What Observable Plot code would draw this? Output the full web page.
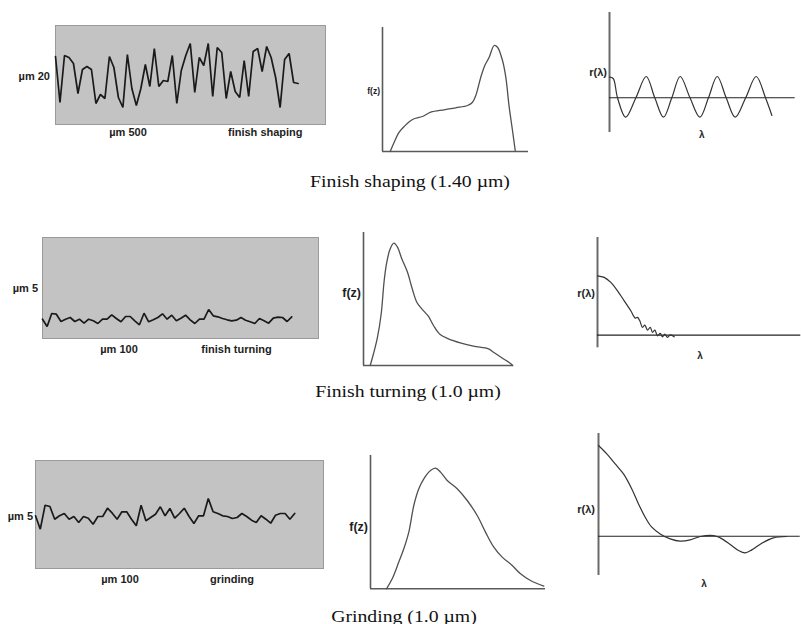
<!DOCTYPE html>
<html>
<head>
<meta charset="utf-8">
<script src="https://cdn.jsdelivr.net/npm/d3@7"></script>
<script src="https://cdn.jsdelivr.net/npm/@observablehq/plot@0.6"></script>
<style>
  html, body { margin: 0; padding: 0; background: #fff; }
  .lbl { position: absolute; white-space: nowrap; line-height: 1; color: #1e1e1e;
         font-family: "Liberation Sans", Arial, sans-serif; font-weight: bold; }
  .cap { position: absolute; white-space: nowrap; line-height: 1; color: #111;
         font-family: "Liberation Serif", "Times New Roman", serif; font-size: 17px; }
</style>
</head>
<body>
<div id="root" style="position:relative;width:801px;height:624px;overflow:hidden;background:#fff"></div>
<script>
// ---------- DATA ----------
// Surface profiles (height above the bottom of the grey box, one value per sample)
const shapingProfile = [68,22,69,67,61,31,55,58,55,21,30,26,68,57,27,17,70,36,19,36,60,38,76,38,44,43,69,21,54,69,81,32,67,59,81,28,77,72,26,53,33,27,64,28,73,76,53,78,67,47,17,65,71,42,41];
const turningProfile = [19.3,12,25,24.3,17,19.3,21,17,19.3,15.3,19.3,17.7,15,19.3,19.3,23.7,20,16.7,22,22,17.7,13.7,25.3,16.7,18.7,21,24.7,19.3,23.3,17.7,20.3,23.3,18.7,15,19.3,19.3,29,22.7,21.7,20,18.7,17.7,18.3,21,18.3,16.7,15,20,17.7,15.3,20.3,21.3,21,17,21.7];
const grindingProfile = [52.7,39.3,63.3,62,49.3,52.7,55,49.3,52,46,52,50.3,44.3,52,52,60.3,55.3,49.3,56.7,56.7,49.3,42.7,63.3,47.7,51,54.3,61.7,52.7,60,50.3,55,60.3,52,45,52.7,52.7,70,56.7,55,52.7,52,50,51,55,52,48.3,46,52.7,49.3,45.3,53.3,55,55,49.3,55];

// Height distributions f(z)
const shapingZ = [7.7,11.7,16.7,21.7,30,40,48.3,61.7,73.3,85,90,93.3,98.3,102.3,106.7,111.7,115,120,123.3,126.7,130,132.7];
const shapingF = [0,9.3,19.3,25,32,35,39.3,41.7,43.7,46,49.3,56,74.3,86,94.3,106,104.3,91,74.3,44.3,21,1];
const turningZ = [6.7,10,14,17.7,20.7,23.3,26.7,30.3,34,38.3,44,48.3,53.3,58.3,65,70,76.7,85,96.7,110,125,130,138.3,146.7,149.3];
const turningF = [0,11.7,28.3,51.7,85,103.3,116.7,122.3,118.3,106.7,93.3,78.3,63.3,56.7,49,40,31,26.7,22.7,19.3,16.7,13.3,7.7,2.3,0];
const grindingZ = [16,21.7,28.3,33.3,38.3,43.3,48.3,53.3,60,65,70,76.7,86.7,96.7,106.7,115,123.3,131.7,141.7,150,160,173.3];
const grindingF = [0,10,26.7,40,56.7,83.3,100,110,118.3,120.7,116.7,108.3,100,88.3,73.3,56.7,41.7,31.7,23.3,15,8.3,2.7];

// Autocorrelation r(λ)
const shapingLag = [0,3.7,8,16.2,26.4,36.7,45.3,54,62.3,70.7,80.5,90.4,99,107.7,116.7,125.7,136.2,146.7,156,162.4];
const shapingR   = [20.6,19.3,0,-19.4,0,21.3,0,-19.4,0,21.3,0,-19.4,0,21.3,0,-19.4,0,21.3,0,-17.7];
const turningLag = [0,6.7,13.3,20,26.7,33.3,37.7,40,42.3,45,47.3,50,52.7,55,57.3,60,62.7,65,67.3,70,72.7,76.7];
const turningR   = [59.3,57.7,52.7,44.3,34.3,24.3,17,17.7,14.3,7.7,10,5,7.7,2.7,5,-0.7,1.7,-1.7,1,-2.3,0.3,-1.7];
const grindingLag = [0,8.3,16.7,25,33.3,40,46.7,53.3,61.7,71.7,81.7,91.7,101.7,115,121.7,131.7,140,146.7,153.3,163.3,175,188.3];
const grindingR   = [90.7,82.3,72.3,62.3,47.3,32.3,19,9,2.3,-2.7,-5,-3.7,-0.3,0.7,-1.7,-8.3,-14.3,-16.7,-13.7,-7,-1.7,-0.3];

// Texts
const processLabels = ["finish shaping", "finish turning", "grinding"];
const heightLabels = ["µm 20", "µm 5", "µm 5"];
const lengthLabels = ["µm 500", "µm 100", "µm 100"];
const captions = ["Finish shaping (1.40 µm)", "Finish turning (1.0 µm)", "Grinding (1.0 µm)"];

// ---------- LAYOUT ----------
const root = document.getElementById("root");
const M = 3;

function place(svg, f) {
  const d = document.createElement("div");
  d.style.position = "absolute";
  d.style.left = (f.x0 - M) + "px";
  d.style.top = (f.y0 - M) + "px";
  d.style.width = (f.x1 - f.x0 + 2 * M) + "px";
  d.style.height = (f.y1 - f.y0 + 2 * M) + "px";
  d.append(svg);
  root.append(d);
}
function size(f) {
  return {width: f.x1 - f.x0 + 2 * M, height: f.y1 - f.y0 + 2 * M,
          marginTop: M, marginRight: M, marginBottom: M, marginLeft: M,
          style: {overflow: "visible", background: "transparent"}};
}
function label(text, x, y, anchor, px, cls = "lbl", sx = 1) {
  const d = document.createElement("div");
  d.className = cls;
  d.textContent = text;
  d.style.left = x + "px";
  d.style.top = y + "px";
  d.style.fontSize = px + "px";
  const tx = anchor === "end" ? "-100%" : anchor === "start" ? "0" : "-50%";
  d.style.transformOrigin = "0 0";
  d.style.transform = `scaleX(${sx}) translate(${tx},-50%)`;
  if (sx !== 1) d.style.left = x + "px";
  root.append(d);
}

// Profiles
const profiles = [
  {values: shapingProfile, f: {x0: 55, x1: 325, y0: 25, y1: 124}, xMax: 60.1, yMax: 99},
  {values: turningProfile, f: {x0: 42, x1: 318, y0: 237, y1: 338}, xMax: 59.8, yMax: 101},
  {values: grindingProfile, f: {x0: 35, x1: 323, y0: 460, y1: 568}, xMax: 60, yMax: 108}
];
for (const p of profiles) {
  place(Plot.plot({
    ...size(p.f),
    x: {domain: [0, p.xMax], axis: null},
    y: {domain: [0, p.yMax], axis: null},
    marks: [
      Plot.frame({fill: "#c3c3c3", stroke: "#9a9a9a", strokeWidth: 1}),
      Plot.line(p.values, {x: (d, i) => i, y: d => d, stroke: "#1a1a1a", strokeWidth: 1.7, strokeLinejoin: "miter"})
    ]
  }), p.f);
}

// Distributions
const dists = [
  {z: shapingZ, v: shapingF, f: {x0: 382, x1: 528, y0: 27, y1: 151}, xd: [0, 146], yd: [0, 124]},
  {z: turningZ, v: turningF, f: {x0: 363.3, x1: 513, y0: 232, y1: 365}, xd: [0, 149.7], yd: [0, 133]},
  {z: grindingZ, v: grindingF, f: {x0: 370, x1: 545, y0: 455, y1: 588.3}, xd: [0, 175], yd: [0, 133.3]}
];
for (const p of dists) {
  place(Plot.plot({
    ...size(p.f),
    x: {domain: p.xd, axis: null},
    y: {domain: p.yd, axis: null},
    marks: [
      Plot.ruleX([0], {stroke: "#5a5a5a", strokeWidth: 1.6}),
      Plot.ruleY([0], {stroke: "#5a5a5a", strokeWidth: 1.6}),
      Plot.line(p.z, {x: d => d, y: (d, i) => p.v[i], curve: "catmull-rom", stroke: "#505050", strokeWidth: 1.3})
    ]
  }), p.f);
}

// Autocorrelations
const autos = [
  {l: shapingLag, r: shapingR, f: {x0: 609.3, x1: 795, y0: 12, y1: 132}, xd: [0, 185.7], yd: [-34.7, 85.3]},
  {l: turningLag, r: turningR, f: {x0: 596.7, x1: 800, y0: 236.7, y1: 347}, xd: [0, 203.3], yd: [-12.7, 97.6]},
  {l: grindingLag, r: grindingR, f: {x0: 598.3, x1: 800, y0: 433, y1: 575}, xd: [0, 201.7], yd: [-39.3, 102.7]}
];
for (const p of autos) {
  place(Plot.plot({
    ...size(p.f),
    x: {domain: p.xd, axis: null},
    y: {domain: p.yd, axis: null},
    marks: [
      Plot.ruleX([0], {stroke: "#6a6a6a", strokeWidth: 2}),
      Plot.ruleY([0], {stroke: "#222", strokeWidth: 1.1}),
      Plot.line(p.l, {x: d => d, y: (d, i) => p.r[i], curve: "catmull-rom", stroke: "#333", strokeWidth: 1.2})
    ]
  }), p.f);
}

// Labels
label(heightLabels[0], 50, 76, "end", 11);
label(lengthLabels[0], 128, 132, "middle", 11);
label(processLabels[0], 228, 132, "start", 11);
label(heightLabels[1], 38, 288, "end", 11);
label(lengthLabels[1], 119, 349, "middle", 11);
label(processLabels[1], 236.5, 349, "middle", 11);
label(heightLabels[2], 33, 516, "end", 11);
label(lengthLabels[2], 120, 579, "middle", 11);
label(processLabels[2], 232, 579, "middle", 11);

label("f(z)", 380, 91, "end", 8.5);
label("f(z)", 361, 293, "end", 12.5);
label("f(z)", 368, 527, "end", 12.5);

label("r(λ)", 607, 72, "end", 11);
label("r(λ)", 595, 293, "end", 11);
label("r(λ)", 595, 509, "end", 11);
label("λ", 701.7, 135, "middle", 10);
label("λ", 700, 356, "middle", 10);
label("λ", 704, 584, "middle", 10);

// Captions: the reference serif text is horizontally stretched (~1.23x)
function caption(text, cx, cy) {
  const d = document.createElement("div");
  d.className = "cap";
  d.textContent = text;
  d.style.left = cx + "px";
  d.style.top = cy + "px";
  d.style.transform = "translate(-50%,-50%) scaleX(1.16)";
  root.append(d);
}
caption(captions[0], 409.5, 181);
caption(captions[1], 408, 391);
caption(captions[2], 404, 616);
</script>
</body>
</html>
